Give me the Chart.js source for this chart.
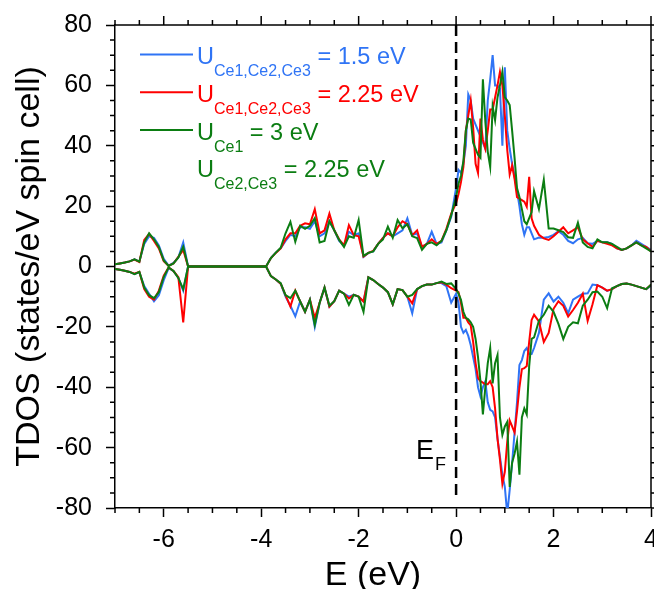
<!DOCTYPE html>
<html>
<head>
<meta charset="utf-8">
<script src="https://cdn.jsdelivr.net/npm/chart.js@4.4.0/dist/chart.umd.min.js"></script>
<style>
  html, body { margin: 0; padding: 0; background: #fff; }
</style>
</head>
<body>
<canvas id="tdos" width="654" height="589"></canvas>
<script>
// energy grid (eV), shared by all curves
const energy = [
  -7.0, -6.9, -6.8, -6.7, -6.6, -6.5, -6.4, -6.3, -6.2, -6.1, -6.0, -5.9, -5.8, -5.7, -5.6, -5.5,
  -3.9, -3.8, -3.7, -3.6, -3.5, -3.4, -3.3, -3.2, -3.1, -3.0, -2.9, -2.8, -2.7, -2.6, -2.5, -2.4, -2.3, -2.2, -2.1, -2.0,
  -1.9, -1.8, -1.7, -1.6, -1.5, -1.4, -1.3, -1.2, -1.1, -1.0, -0.9, -0.8, -0.7, -0.6, -0.5, -0.4, -0.3, -0.2, -0.1,
  0.0, 0.05, 0.1, 0.15, 0.2, 0.25, 0.3, 0.35, 0.4, 0.45, 0.5, 0.55, 0.6, 0.65, 0.7, 0.75, 0.8, 0.85, 0.9, 0.95,
  1.0, 1.05, 1.1, 1.15, 1.2, 1.25, 1.3, 1.35, 1.4, 1.45, 1.5, 1.55, 1.6,
  1.7, 1.8, 1.9, 2.0, 2.1, 2.2, 2.3, 2.4, 2.5, 2.6, 2.7, 2.8, 2.9, 3.0, 3.1, 3.2, 3.3, 3.4, 3.5, 3.6, 3.7, 3.8, 3.9, 4.0
]

// U(Ce1,Ce2,Ce3) = 1.5 eV
const blueUp = [
  0.7, 1.0, 1.3, 1.7, 2.4, 1.6, 7.5, 10.0, 9.5, 7.0, 2.5, 0.3, 1.2, 3.0, 8.0, 0,
  0, 2.9, 4.6, 6.0, 8.5, 10.5, 10.0, 13.0, 13.0, 12.5, 15.0, 10.0, 11.0, 15.0, 12.0, 8.5, 7.0, 11.5, 10.4, 11.0,
  3.2, 4.5, 5.0, 7.5, 9.5, 11.0, 10.0, 11.0, 12.0, 16.0, 10.4, 11.0, 6.5, 7.5, 11.5, 7.5, 8.0, 12.0, 16.5,
  26, 32, 31, 34, 40, 57, 55, 49, 47, 45, 43, 41, 39, 55, 62, 70, 60, 60, 59, 40,
  66, 45, 39, 34, 30, 25, 20, 14, 10.5, 13, 13, 11, 9,
  9.6, 9.5, 9.8, 10.5, 11.7, 10.5, 8.5, 7.7, 9, 9.5, 7.7, 7.5, 8.5, 8, 8, 7.5, 6, 5.5, 6, 7, 8.5, 7.5, 6.5, 5.5
]
const blueDown = [
  -0.8, -1.1, -1.4, -1.8, -2.5, -1.9, -6.5, -9.0, -11.5, -9.5, -4.5, -0.5, -1.5, -3.8, -8.0, 0,
  0, -3.2, -4.3, -5.7, -10, -13, -16.5, -11.6, -15, -11, -20, -12, -7, -13.3, -11.5, -8, -9, -10, -9.4, -10,
  -11.6, -3.6, -4.5, -5.8, -7, -8.5, -12.5, -7.5, -7.8, -10, -15.5, -7.5, -6.5, -6, -6, -5.5, -5.5, -6.5, -12,
  -9, -12, -20, -22, -21, -23, -26, -30, -34, -40, -43, -40, -38, -45, -47.5, -48, -50, -57, -63, -69,
  -73, -82, -74, -65, -55, -45, -32.6, -31, -28, -27, -29, -29, -27,
  -22, -11, -8.9, -11.6, -10, -12, -15.5, -11, -10, -9, -8.9, -6, -6.2, -7, -8.1, -7.5, -6.5, -5.8, -5.6, -6, -6.5, -7, -7.5, -6.4
]

// U(Ce1,Ce2,Ce3) = 2.25 eV
const redUp = [
  0.7, 1.0, 1.3, 1.7, 2.3, 1.5, 8.8, 10.8, 8.5, 6.0, 1.8, 0.2, 1.0, 3.2, 5.5, 0,
  0, 2.8, 4.5, 6.0, 9.0, 11.0, 11.0, 13.5, 14.3, 14.0, 19.0, 11.0, 12.0, 17.5, 12.0, 9.0, 7.0, 13.7, 10.4, 10.0,
  3.3, 4.5, 5.2, 7.5, 9.5, 11.0, 10.0, 13.0, 15.0, 14.0, 10.4, 12.0, 6.5, 7.5, 9.0, 7.5, 8.5, 12.5, 17.5,
  21, 24, 28, 33, 45, 50, 55, 46, 34, 31, 49, 42, 39, 45, 52, 52, 56, 60, 64.5, 60,
  50, 38.6, 30.5, 33.5, 29, 23, 22.5, 22, 21.5, 19.8, 29.7, 16, 13.5,
  10.5, 9.3, 8.8, 10, 11.5, 13, 11, 12, 13, 9, 7.7, 6.5, 8.5, 8, 7.5, 7, 6, 5.5, 6, 7, 8, 7, 6.5, 5
]
const redDown = [
  -0.8, -1.1, -1.4, -1.8, -2.4, -1.8, -7.5, -10, -11, -8.0, -3.0, -0.3, -1.5, -3.5, -18.5, 0,
  0, -3.2, -4.3, -5.7, -9.5, -13.3, -8.0, -11.6, -15, -11, -17, -12, -7, -13.3, -11.5, -8, -9, -10.6, -9.4, -10,
  -11.6, -3.6, -4.5, -5.8, -7, -8.5, -12.5, -7.5, -7.8, -10, -12.2, -7.5, -6.5, -6, -6, -5.5, -5.2, -6, -7.2,
  -8, -8.5, -12, -17, -17, -18.5, -19.5, -25, -32, -37, -38, -38.5, -39, -39, -38, -40, -47, -57, -64, -72,
  -68, -58, -51, -53, -55, -48, -40, -34, -33.7, -33, -25, -17.7, -16,
  -18.2, -25, -22, -14, -11.5, -13, -16.6, -14.4, -12, -9, -18, -12.5, -6.2, -7, -8, -7.5, -6.5, -5.8, -5.6, -6, -6.5, -7, -7.5, -6
]

// U(Ce1) = 3 eV, U(Ce2,Ce3) = 2.25 eV
const greenUp = [
  0.7, 1.0, 1.3, 1.7, 2.4, 1.6, 8.0, 11.0, 9.0, 6.5, 2.0, 0.2, 1.0, 3.0, 6.5, 0,
  0, 2.8, 4.6, 6.2, 11.0, 14.8, 8.2, 13.5, 12.5, 13.5, 16.0, 8.0, 8.5, 15.0, 12.0, 8.8, 6.5, 10.0, 9.5, 15.4,
  3.5, 4.5, 5.0, 7.5, 9.0, 13.2, 9.5, 15.4, 12.7, 14.0, 10.0, 9.4, 5.5, 7.5, 8.0, 7.0, 8.5, 12.0, 17.0,
  23, 27.5, 30, 35, 45, 49, 48.7, 41, 39, 37, 36, 62, 48, 38, 33, 53, 48.5, 56, 60, 64.5,
  56, 55, 53.5, 45, 36, 26, 23, 19, 15, 14, 16, 18, 25,
  19, 28.7, 12.6, 12.6, 12, 11.4, 9.7, 9.5, 14.5, 8, 6.5, 6, 9, 8, 8, 7.5, 6.5, 5.5, 6, 7, 8, 7, 6, 5
]
const greenDown = [
  -0.8, -1.1, -1.4, -1.8, -2.5, -1.8, -7.0, -9.5, -10.5, -8.5, -3.5, -0.3, -1.5, -3.8, -7.5, 0,
  0, -3.2, -4.3, -5.5, -9.5, -10.5, -8.0, -11.6, -15, -11, -19.3, -12, -7, -13, -11.5, -8, -9, -12.7, -9.4, -10,
  -15, -3.6, -4.5, -5.8, -7, -8.5, -12.5, -7.5, -7.8, -10, -9.4, -7.5, -6.5, -6, -6, -5.5, -5.0, -5.8, -5.6,
  -7.5, -9, -11, -15, -17, -17.5, -18.5, -20, -24, -30, -38, -49, -40, -32, -27, -38.7, -32, -29.3, -50, -55.8,
  -53, -51.5, -73, -65, -62, -58, -69, -50, -47, -49, -33, -24, -23.5,
  -18, -16, -13, -15, -19, -24, -20, -18.5, -18.8, -13, -11, -8.5, -8.3, -10, -13.8, -7.2, -6.5, -5.8, -5.6, -6, -6.5, -7, -7.5, -6
]

// axis ticks
const xMajor = [-6, -4, -2, 0, 2, 4]
const yMajor = [-80, -60, -40, -20, 0, 20, 40, 60, 80]

const BLUE = "#2f74f5"
const RED = "#ff0000"
const GREEN = "#0b7d12"
const FONT = '"Liberation Sans", Arial, sans-serif'

const legendRows = [
  { color: BLUE, line: true, sub: "Ce1,Ce2,Ce3", rest: " = 1.5 eV" },
  { color: RED, line: true, sub: "Ce1,Ce2,Ce3", rest: " = 2.25 eV" },
  { color: GREEN, line: true, sub: "Ce1", rest: " = 3 eV" },
  { color: GREEN, line: false, sub: "Ce2,Ce3", rest: " = 2.25 eV" }
]

const toPoints = vals => energy.map((e, i) => ({ x: e, y: vals[i] }))

const curve = (vals, color, order) => ({
  data: toPoints(vals),
  borderColor: color,
  borderWidth: 2,
  pointRadius: 0,
  tension: 0,
  order: order
})


/* box, minor ticks, mirrored ticks, legend and labels */
const decorations = {
  id: "decorations",
  afterDraw(chart) {
    const { ctx, chartArea: a, scales: { x, y } } = chart
    ctx.save()
    ctx.strokeStyle = "#000"
    ctx.lineWidth = 1.5

    ctx.beginPath()
    ctx.moveTo(a.left, a.top)
    ctx.lineTo(a.right, a.top)
    ctx.lineTo(a.right, a.bottom)
    ctx.stroke()

    ctx.beginPath()
    for (let v = -7; v <= 4.001; v += 0.5) {
      const px = x.getPixelForValue(v)
      const major = xMajor.includes(Math.round(v * 10) / 10)
      const len = major ? 9 : 5
      if (!major) {
        ctx.moveTo(px, a.bottom)
        ctx.lineTo(px, a.bottom + len)
      }
      ctx.moveTo(px, a.top)
      ctx.lineTo(px, a.top - len)
    }
    for (let v = -80; v <= 80; v += 5) {
      const py = y.getPixelForValue(v)
      const major = yMajor.includes(v)
      const len = major ? 9 : 5
      if (!major) {
        ctx.moveTo(a.left, py)
        ctx.lineTo(a.left - len, py)
      }
      ctx.moveTo(a.right, py)
      ctx.lineTo(a.right + len, py)
    }
    ctx.stroke()

    // legend with subscripts
    ctx.textBaseline = "alphabetic"
    ctx.textAlign = "left"
    legendRows.forEach((row, i) => {
      const base = 64 + i * 37.8
      ctx.fillStyle = row.color
      ctx.strokeStyle = row.color
      if (row.line) {
        ctx.lineWidth = 2
        ctx.beginPath()
        ctx.moveTo(140, base - 9.5)
        ctx.lineTo(193, base - 9.5)
        ctx.stroke()
      }
      let tx = 197
      ctx.font = "23.5px " + FONT
      ctx.fillText("U", tx, base)
      tx += ctx.measureText("U").width
      ctx.font = "16px " + FONT
      ctx.fillText(row.sub, tx, base + 12)
      tx += ctx.measureText(row.sub).width
      ctx.font = "23.5px " + FONT
      ctx.fillText(row.rest, tx, base)
    })

    // Fermi level label
    ctx.fillStyle = "#000"
    ctx.font = "27px " + FONT
    ctx.fillText("E", 416, 459)
    ctx.font = "18px " + FONT
    ctx.fillText("F", 435, 470)

    // x axis title (sits a little left of centre in the original)
    ctx.font = "34px " + FONT
    ctx.textAlign = "center"
    ctx.textBaseline = "middle"
    ctx.fillText("E (eV)", 373, 576)

    ctx.restore()
  }
}


const config = {
  type: "line",
  data: {
    datasets: [
      {
        data: [{ x: 0, y: 80 }, { x: 0, y: -76 }],
        borderColor: "#000",
        borderWidth: 2.5,
        borderDash: [11, 6],
        pointRadius: 0,
        order: 0
      },
      curve(greenUp, GREEN, 1),
      curve(greenDown, GREEN, 1),
      curve(redUp, RED, 2),
      curve(redDown, RED, 2),
      curve(blueUp, BLUE, 3),
      curve(blueDown, BLUE, 3)
    ]
  },
  options: {
    responsive: false,
    animation: false,
    layout: { padding: { top: 25, right: 3, left: 0, bottom: 0 } },
    plugins: {
      legend: { display: false },
      tooltip: { enabled: false }
    },
    scales: {
      x: {
        type: "linear",
        min: -7,
        max: 4,
        afterBuildTicks: scale => { scale.ticks = xMajor.map(v => ({ value: v })) },
        afterFit: scale => {
          scale.height = 81
          scale.paddingLeft = 0
          scale.paddingRight = 0
        },
        ticks: { color: "#000", padding: 8, font: { size: 25, family: FONT }, maxRotation: 0, autoSkip: false },
        grid: { drawOnChartArea: false, tickLength: 9, tickWidth: 1.5, tickColor: "#000" },
        border: { color: "#000", width: 1.5 },
        title: { display: false }
      },
      y: {
        type: "linear",
        min: -80,
        max: 80,
        afterBuildTicks: scale => { scale.ticks = yMajor.map(v => ({ value: v })) },
        afterFit: scale => {
          scale.width = 115
          scale.paddingTop = 0
          scale.paddingBottom = 0
        },
        ticks: { color: "#000", padding: 14, font: { size: 25, family: FONT }, autoSkip: false },
        grid: { drawOnChartArea: false, tickLength: 9, tickWidth: 1.5, tickColor: "#000" },
        border: { color: "#000", width: 1.5 },
        title: { display: true, text: "TDOS (states/eV spin cell)", color: "#000", font: { size: 34, family: FONT, lineHeight: 1 }, padding: { top: 13, bottom: 0 } }
      }
    }
  },
  plugins: [decorations]
}

new Chart(document.querySelector("#tdos"), config)
</script>
</body>
</html>
